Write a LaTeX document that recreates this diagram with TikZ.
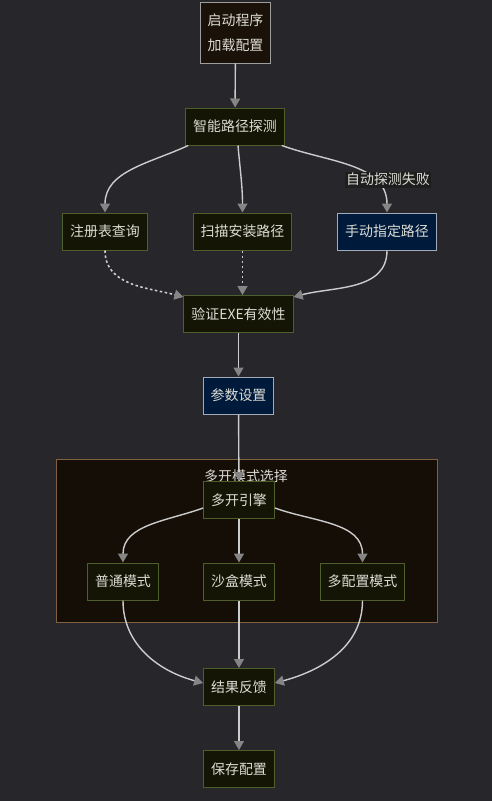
\documentclass[tikz,border=0pt]{standalone}
\usepackage{fontspec}
\setmainfont{Noto Sans CJK SC}
\usetikzlibrary{arrows.meta}
\definecolor{bgdark}{HTML}{26262B}
\definecolor{greenfill}{HTML}{141505}
\definecolor{greenline}{HTML}{4E5F2B}
\definecolor{navyfill}{HTML}{001A3C}
\definecolor{navyline}{HTML}{A3ABB8}
\definecolor{startfill}{HTML}{1A1109}
\definecolor{startline}{HTML}{9E9E9E}
\definecolor{clusterfill}{HTML}{140E07}
\definecolor{clusterline}{HTML}{80603F}
\definecolor{labeltext}{HTML}{DCDCD4}
\definecolor{edgecol}{HTML}{CCCCCC}
\definecolor{tipgray}{HTML}{858585}
\definecolor{lblfill}{HTML}{1E1E1E}
\begin{document}
\begin{tikzpicture}[x=1bp, y=-1bp,
    box/.style={draw=greenline, fill=greenfill, line width=1bp, inner xsep=7.5bp,
        minimum height=37bp, text=labeltext, font=\fontsize{14}{25}\selectfont},
    navybox/.style={box, draw=navyline, fill=navyfill},
    flow/.style={draw=edgecol, line width=1.4bp,
        -{Triangle[length=9bp, width=10bp, fill=tipgray, color=tipgray]}},
    dots/.style={flow, line width=1.6bp, dash pattern=on 2.5bp off 2.5bp}]
    % background and cluster
    \fill[bgdark] (0,0) rectangle (492,801);
    \path[draw=clusterline, fill=clusterfill, line width=1bp] (56,459) rectangle (437,622);
    \node[text=labeltext, font=\fontsize{14}{16}\selectfont] (modesel) at (246,476) {多开模式选择};

    \node[box, draw=startline, fill=startfill, minimum height=60bp, align=center] (start) at (235.5,33) {启动程序\\加载配置};
    \node[box] (detect) at (235,126.5) {智能路径探测};
    \node[box] (registry) at (105,231.5) {注册表查询};
    \node[box] (scan) at (242.5,231.5) {扫描安装路径};
    \node[navybox] (manual) at (387,231.5) {手动指定路径};
    \node[box] (verify) at (238.5,314) {验证EXE有效性};
    \node[navybox] (params) at (238.5,395.5) {参数设置};
    \node[box] (engine) at (239,500) {多开引擎};
    \node[box] (normal) at (123,581.5) {普通模式};
    \node[box] (sandbox) at (239,581.5) {沙盒模式};
    \node[box] (multicfg) at (362.5,581.5) {多配置模式};
    \node[box] (result) at (239,687) {结果反馈};
    \node[box] (save) at (239,769) {保存配置};

    \draw[flow] (start) -- (detect);
    \draw[flow] ([xshift=3bp]detect.south west) to[out=-155, in=90] (registry.north);
    \draw[flow] ([xshift=3bp]detect.south) to[out=-85, in=90] (scan.north);
    \draw[flow] ([xshift=-3bp]detect.south east) to[out=-20, in=90]
        node[pos=0.7, xshift=15bp, fill=lblfill, inner sep=1.5bp, text=labeltext,
            font=\fontsize{14}{16}\selectfont] (failed) {自动探测失败} (manual.north);
    \draw[dots] (registry.south) to[out=-90, in=165] ([yshift=-2bp]verify.north west);
    \draw[dots] (scan.south) -- (scan.south |- verify.north);
    \draw[flow] (manual.south) to[out=-90, in=15] ([yshift=-2bp]verify.north east);
    \draw[flow] (verify) -- (params);
    \draw[flow] (params) -- (engine);
    \draw[flow] ([yshift=-8bp]engine.west) to[out=-160, in=90] (normal.north);
    \draw[flow] (engine) -- (sandbox);
    \draw[flow] ([yshift=-8bp]engine.east) to[out=-20, in=90] (multicfg.north);
    \draw[flow] (normal.south) to[out=-90, in=165] ([yshift=4bp]result.west);
    \draw[flow] (sandbox) -- (result);
    \draw[flow] (multicfg.south) to[out=-90, in=15] ([yshift=4bp]result.east);
    \draw[flow] (result) -- (save);
\end{tikzpicture}
\end{document}
